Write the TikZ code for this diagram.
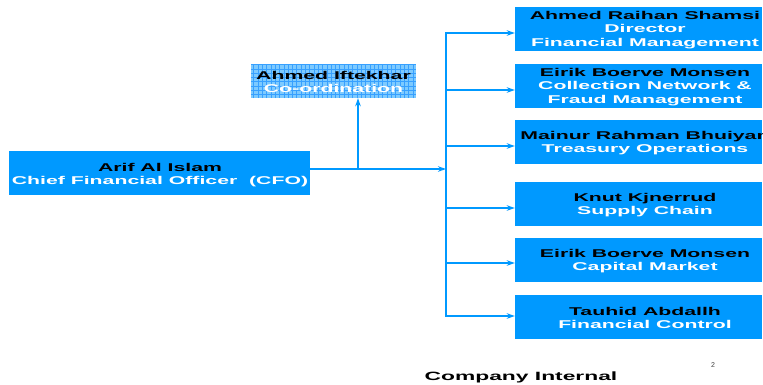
\documentclass[tikz,border=0pt]{standalone}
\usepackage{fontspec}
\setmainfont{Liberation Sans}
\usetikzlibrary{arrows.meta,calc}
\definecolor{orgblue}{RGB}{0,153,255}
\definecolor{gridfill}{RGB}{125,202,255}
\definecolor{gridline}{RGB}{55,160,255}
% wide, horizontally stretched lettering
\newcommand\widetxt[1]{\scalebox{1.88}[1]{#1}}
\begin{document}
\begin{tikzpicture}[x=1pt,y=-1pt,
  orgbox/.style={draw=none,fill=orgblue,minimum width=#1,minimum height=44pt,inner sep=0pt},
  orgtext/.style={align=center,inner sep=0pt,font=\fontsize{11.3}{13.6}\selectfont\bfseries},
  conn/.style={draw=orgblue,line width=1.4pt},
  arr/.style={conn,-{Stealth[length=8pt,width=5.5pt]}}]
\useasboundingbox (0,0) rectangle (763,384);
\fill[white] (0,0) rectangle (763,384);

% chief financial officer
\node[orgbox=301pt] (cfo) at (159.5,173) {};
\node[orgtext] (cfot) at (160,175) {\widetxt{Arif Al Islam}\\\widetxt{\color{white}Chief Financial Officer\ \ (CFO)}};

% co-ordination box with grid texture
\node[minimum width=165pt,minimum height=34pt,inner sep=0pt] (coord) at (333.5,81) {};
\fill[gridfill] (coord.south west) rectangle (coord.north east);
\begin{scope}
  \clip (coord.south west) rectangle (coord.north east);
  \draw[gridline,line width=0.45pt,step=4.3pt] (coord.south west) grid (coord.north east);
\end{scope}
\node[orgtext] (coordt) at (333.5,82) {\widetxt{Ahmed Iftekhar}\\\widetxt{\color{white}Co-ordination}};

% direct reports
\node[orgbox=247pt] (b1) at (638.5,29) {};
\node[orgbox=247pt] (b2) at (638.5,86) {};
\node[orgbox=247pt] (b3) at (638.5,142) {};
\node[orgbox=247pt] (b4) at (638.5,204) {};
\node[orgbox=247pt] (b5) at (638.5,260) {};
\node[orgbox=247pt] (b6) at (638.5,317) {};

\node[orgtext] (t1) at (645,30) {\widetxt{Ahmed Raihan Shamsi}\\\widetxt{\color{white}Director}\\\widetxt{\color{white}Financial Management}};
\node[orgtext] (t2) at (645,87) {\widetxt{Eirik Boerve Monsen}\\\widetxt{\color{white}Collection Network \&}\\\widetxt{\color{white}Fraud Management}};
\node[orgtext] (t3) at (645,143) {\widetxt{Mainur Rahman Bhuiyan}\\\widetxt{\color{white}Treasury Operations}};
\node[orgtext] (t4) at (645,205) {\widetxt{Knut Kjnerrud}\\\widetxt{\color{white}Supply Chain}};
\node[orgtext] (t5) at (645,261) {\widetxt{Eirik Boerve Monsen}\\\widetxt{\color{white}Capital Market}};
\node[orgtext] (t6) at (645,318) {\widetxt{Tauhid Abdallh}\\\widetxt{\color{white}Financial Control}};

% connectors
\coordinate (bus) at (446,169);
\coordinate (jc) at (358,169);
\draw[arr] (cfo.east |- bus) -- (bus);
\draw[arr] (jc) -- (jc |- coord.south);
\draw[arr] (bus) |- ([yshift=-4pt]b1.west);
\draw[arr] (bus) |- ([yshift=-4pt]b2.west);
\draw[arr] (bus) |- ([yshift=-4pt]b3.west);
\draw[arr] (bus) |- ([yshift=-4pt]b4.west);
\draw[arr] (bus) |- ([yshift=-3pt]b5.west);
\draw[arr] (bus) |- ([yshift=1pt]b6.west);

% footer
\node[anchor=base,inner sep=0pt,font=\fontsize{12}{14}\selectfont\bfseries] (foot) at (521,380) {\scalebox{1.9}[1]{Company Internal}};
\node[anchor=base,inner sep=0pt,font=\fontsize{7}{8}\selectfont,text=black!75] (pg) at (713,367) {2};
\end{tikzpicture}
\end{document}
